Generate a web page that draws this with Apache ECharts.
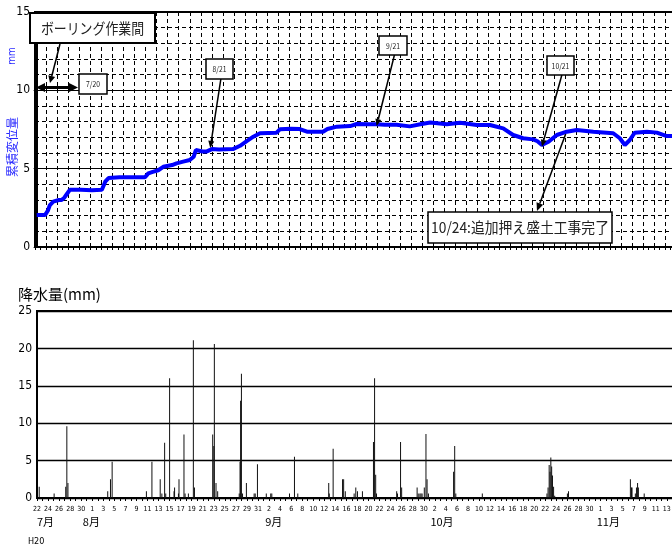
<!DOCTYPE html>
<html><head><meta charset="utf-8">
<script src="https://cdn.jsdelivr.net/npm/echarts@6/dist/echarts.min.js"></script>
<style>html,body{margin:0;padding:0;overflow:hidden;background:#fff}#main{width:710px;height:548px}</style>
</head><body><div id="main"></div>
<script>
// ---- data (x = days since 2008-07-22) ----
const dispDay = [0,1.5,2.0,2.4,3,4,4.5,5,5.5,6,8,10,11.8,12.4,13,15,17,19.6,20.2,21,22,22.9,24.5,25.3,26.5,27.7,28.4,28.8,30,30.8,31.7,33,35.5,36.8,38,39.2,40.4,43.4,44,46,47.6,48.9,51.8,52.6,54.3,56.7,57.9,60,61.5,63,65.1,67.5,69.4,71.2,74.2,76.6,79.6,82,84.4,86.2,88,89.8,90.6,91.4,92.6,94.1,95.9,97.7,100.7,104.3,105.5,106.4,107.3,108.2,110.4,112.2,114,116];
const dispVal = [2.04,2.04,2.3,2.68,2.9,3.0,3.0,3.15,3.4,3.65,3.65,3.62,3.65,4.17,4.4,4.45,4.45,4.45,4.7,4.8,4.9,5.12,5.23,5.34,5.45,5.55,5.76,6.19,6.1,6.1,6.25,6.22,6.25,6.46,6.76,7.04,7.26,7.3,7.51,7.55,7.53,7.36,7.36,7.53,7.68,7.72,7.85,7.83,7.83,7.8,7.8,7.7,7.83,7.95,7.83,7.93,7.79,7.79,7.57,7.15,6.94,6.87,6.75,6.51,6.72,7.15,7.36,7.47,7.36,7.26,6.94,6.51,6.83,7.3,7.36,7.3,7.08,7.08];

const rainDay = [0.4,3.1,5.2,5.4,5.6,12.8,13.3,13.6,19.8,20.8,22.3,22.6,23.1,23.3,24.0,24.8,24.9,25.6,25.7,26.6,26.8,27.4,28.3,28.5,31.8,32.0,32.1,32.4,32.7,36.6,36.75,36.85,37.0,37.2,37.9,39.3,39.5,39.9,41.5,42.3,42.5,45.7,46.6,47.2,52.8,52.9,53.6,55.3,55.5,55.8,57.4,57.7,58.0,58.9,60.9,61.1,61.3,61.45,65.1,65.25,65.8,66.0,68.8,69.0,69.3,69.5,69.7,70.1,70.4,70.6,70.85,75.4,75.6,75.8,80.6,92.3,92.5,92.7,92.85,93.0,93.15,93.3,93.5,93.7,96.0,96.2,107.4,107.6,107.7,108.3,108.5,108.7,108.85,109.9];
const rainVal = [1.5,0.6,1.5,9.6,2.0,0.9,2.5,4.85,0.9,4.85,2.5,0.6,7.4,0.6,16.0,0.9,1.4,0.6,2.5,8.5,0.6,0.6,21.1,1.4,8.5,6.95,20.6,2.0,0.9,0.6,4.85,13.0,16.6,0.6,2.0,0.6,0.6,4.5,0.6,0.6,0.6,0.6,5.5,0.6,2.0,0.6,6.6,2.5,2.5,0.9,0.6,1.4,0.9,0.9,7.5,16.0,3.1,0.6,0.9,0.6,7.5,1.4,1.4,0.6,0.6,0.6,0.6,1.4,8.55,2.5,0.6,3.5,6.95,0.6,0.6,0.6,1.4,4.4,3.5,5.4,4.2,3.0,1.5,0.3,0.6,0.9,2.5,1.4,1.4,0.6,1.4,2.0,1.4,0.6];

const monthLabels = ['7月','8月','9月','10月','11月'];
const monthDay = [0, 8.3, 41.3, 71.2, 101.3];
const dispTicks = [0, 5, 10, 15];
const rainTicks = [0, 5, 10, 15, 20, 25];

// annotation anchors (day, value) on the displacement line
const notes = [
  {label:'8/21', at:[31.4, 6.32]},
  {label:'9/21', at:[61.5, 7.72]},
  {label:'10/21', at:[91.4, 6.4]}
];
const completeNote = {label:'10/24:追加押え盛土工事完了', at:[95.7, 7.21]};

const NARROW = '"Liberation Sans Narrow","DejaVu Sans Condensed","Liberation Sans",sans-serif';
const JP = '"Noto Sans CJK JP","Noto Sans",sans-serif';

const chart = echarts.init(document.getElementById('main'), null, {renderer:'canvas'});

const option = {
  animation: false,
  backgroundColor: '#fff',
  grid: [
    {left:35, top:12, width:665, height:235, show:true, borderColor:'#000', borderWidth:2, backgroundColor:'transparent'},
    {left:37, top:311, width:663, height:187, show:true, borderColor:'#000', borderWidth:2, backgroundColor:'transparent'}
  ],
  xAxis: [
    {gridIndex:0, type:'value', min:-0.3, max:120, interval:2,
     axisLine:{show:true, lineStyle:{color:'#000', width:2}},
     axisTick:{show:true, length:3, lineStyle:{color:'#000'}},
     minorTick:{show:true, splitNumber:2, length:3, lineStyle:{color:'#000'}},
     axisLabel:{show:false},
     splitLine:{show:true, lineStyle:{color:'#000', width:1, type:[4,3]}}},
    {gridIndex:1, type:'value', min:0, max:120, interval:2,
     axisLine:{show:true, onZero:false, lineStyle:{color:'#000', width:2}},
     axisTick:{show:true, length:3, lineStyle:{color:'#000'}},
     minorTick:{show:true, splitNumber:2, length:3, lineStyle:{color:'#000'}},
     axisLabel:{show:true, fontSize:7, margin:8, color:'#000', fontFamily:NARROW, hideOverlap:false,
       formatter: v => String(new Date(2008, 6, 22 + Math.round(v)).getDate())},
     splitLine:{show:false}},
    {gridIndex:1, type:'value', min:0, max:120, position:'bottom', offset:14,
     axisLine:{show:false}, axisTick:{show:false}, splitLine:{show:false},
     axisLabel:{show:true, customValues: monthDay, align:'left', fontSize:11, color:'#000', fontFamily:JP, margin:4,
       formatter: v => { const i = monthDay.indexOf(v); return i >= 0 ? monthLabels[i] : ''; }}}
  ],
  yAxis: [
    {gridIndex:0, type:'value', min:dispTicks[0], max:dispTicks[dispTicks.length-1], interval:5,
     axisLine:{show:true, lineStyle:{color:'#000', width:2}},
     axisTick:{show:true, length:3, lineStyle:{color:'#000'}},
     axisLabel:{fontSize:12, color:'#000', fontFamily:NARROW, margin:5},
     splitLine:{show:true, lineStyle:{color:'#000', width:1}},
     minorTick:{show:false, splitNumber:5},
     minorSplitLine:{show:true, lineStyle:{color:'#000', width:1, type:[4,3]}}},
    {gridIndex:1, type:'value', min:rainTicks[0], max:rainTicks[rainTicks.length-1], interval:5,
     axisLine:{show:true, lineStyle:{color:'#000', width:1.5}},
     axisTick:{show:false},
     axisLabel:{fontSize:12, color:'#000', fontFamily:NARROW, margin:5},
     splitLine:{show:true, lineStyle:{color:'#000', width:1.3}}}
  ],
  series: [
    {type:'line', xAxisIndex:0, yAxisIndex:0, symbol:'none', z:5,
     lineStyle:{color:'#0000ff', width:4}, itemStyle:{color:'#0000ff'},
     data: dispDay.map((d,i) => [d, dispVal[i]])},
    {type:'bar', xAxisIndex:1, yAxisIndex:1, barWidth:1, z:5,
     itemStyle:{color:'#111'},
     data: rainDay.map((d,i) => [d, rainVal[i]])}
  ]
};
chart.setOption(option);

function arrow(x1, y1, x2, y2, w, L, H) {
  const a = Math.atan2(y2 - y1, x2 - x1);
  const bx = x2 - L * Math.cos(a), by = y2 - L * Math.sin(a);
  const px = -Math.sin(a), py = Math.cos(a);
  return [
    {type:'line', z:100, shape:{x1:x1, y1:y1, x2:bx, y2:by}, style:{stroke:'#000', lineWidth:w}},
    {type:'polygon', z:100, shape:{points:[[x2,y2],[bx+H*px, by+H*py],[bx-H*px, by-H*py]]}, style:{fill:'#000'}}
  ];
}
function box(x, y, w, h, text, fs, lw, sx) {
  return [
    {type:'rect', z:100, shape:{x:x, y:y, width:w, height:h}, style:{fill:'#fff', stroke:'#000', lineWidth:lw}},
    {type:'text', z:101, x:x + w/2, y:y + h/2, scaleX: sx || 1,
     style:{text:text, fontSize:fs, fontFamily:JP, fill:'#222', textAlign:'center', align:'center', textVerticalAlign:'middle', verticalAlign:'middle'}}
  ];
}
function txt(x, y, text, fs, color, align, rot, family) {
  return {type:'text', z:101, x:x, y:y, rotation:rot || 0,
    style:{text:text, fontSize:fs, fontFamily:family || JP, fill:color, textAlign:align, align:align, textVerticalAlign:'middle', verticalAlign:'middle'}};
}

const g = [];
// boring period
g.push(...box(30, 13, 125, 30, 'ボーリング作業間', 15, 2, 0.86));
g.push(...arrow(60, 44, 50, 83, 1.5, 7, 3.5));
{ // double arrow
  const y = 87.5, xa = 36, xb = 78;
  g.push({type:'line', z:100, shape:{x1:xa+7, y1:y, x2:xb-7, y2:y}, style:{stroke:'#000', lineWidth:3}});
  g.push({type:'polygon', z:100, shape:{points:[[xa,y],[xa+9,y-4.5],[xa+9,y+4.5]]}, style:{fill:'#000'}});
  g.push({type:'polygon', z:100, shape:{points:[[xb,y],[xb-9,y-4.5],[xb-9,y+4.5]]}, style:{fill:'#000'}});
}
g.push(...box(79, 74, 28, 20, '7/20', 8, 1.5, 0.85));
// date notes
const boxPos = [[206, 59, 27, 20], [379, 36, 28, 19], [547, 56, 27, 19]];
notes.forEach((n, i) => {
  const p = chart.convertToPixel({xAxisIndex:0, yAxisIndex:0}, n.at);
  const b = boxPos[i];
  g.push(...arrow(b[0] + b[2]*0.55, b[1] + b[3], p[0], p[1], 1.5, 7, 3));
  g.push(...box(b[0], b[1], b[2], b[3], n.label, 8, 1.5, 0.85));
});
{
  const p = chart.convertToPixel({xAxisIndex:0, yAxisIndex:0}, completeNote.at);
  g.push(...arrow(p[0], p[1], 537, 211, 1.5, 8, 3.5));
  g.push(...box(428, 212, 184, 31, completeNote.label, 15, 1.5, 0.92));
}
// axis titles
g.push(txt(12, 56, 'mm', 10, '#2a2aff', 'center', Math.PI/2, NARROW));
g.push(txt(12, 147, '累積変位量', 12, '#2a2aff', 'center', Math.PI/2));
g.push(txt(18, 294, '降水量(mm)', 15, '#000', 'left'));
g.push(txt(28, 542, 'H20', 9, '#000', 'left', 0, NARROW));

chart.setOption({graphic: {elements: g}});
</script></body></html>
